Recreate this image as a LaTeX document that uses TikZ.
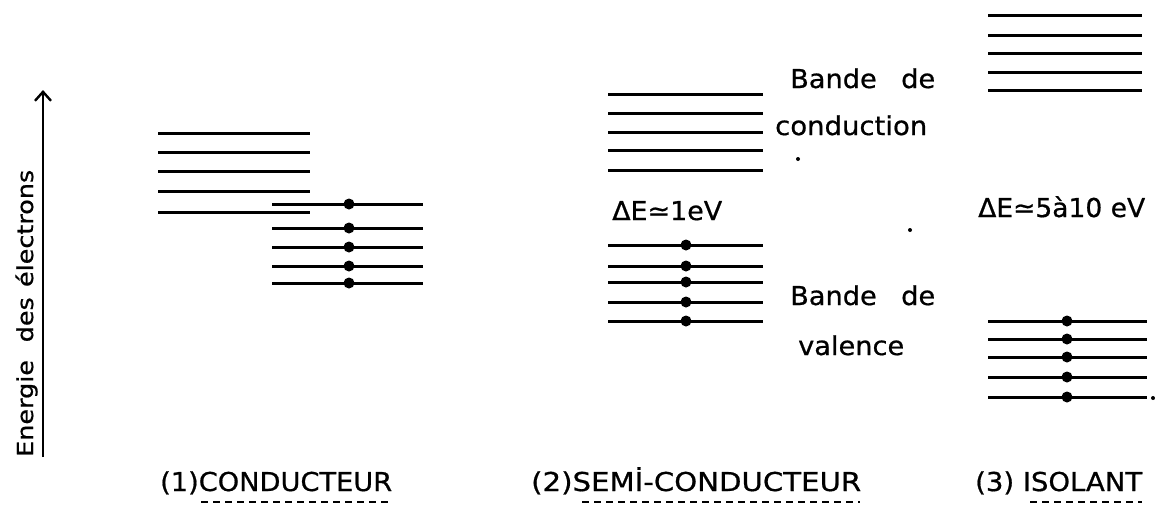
\documentclass[tikz,border=0pt]{standalone}
\usepackage{fontspec}
\setmainfont{DejaVu Sans}[FakeBold=0.7]
\usepackage{graphicx}
\usetikzlibrary{arrows.meta}
\newcommand{\wtext}[2]{\resizebox{#1pt}{\height}{#2}}
\begin{document}
\begin{tikzpicture}[x=1pt,y=-1pt,
  level/.style={line width=3pt},
  electron/.style={circle,fill=black,inner sep=0pt,minimum size=11pt},
  speck/.style={circle,fill=black,inner sep=0pt,minimum size=4pt},
  lab/.style={font=\fontsize{26}{30}\selectfont,inner sep=0pt,anchor=base west},
  axlabel/.style={font=\fontsize{22}{26}\selectfont,inner sep=0pt,anchor=base west,rotate=90},
  underl/.style={line width=2pt,dash pattern=on 7pt off 5pt}]
\useasboundingbox (0,0) rectangle (1155,507);

% energy axis
\coordinate (axbot) at (43,457);
\coordinate (axtop) at (43,90);
\draw[line width=2.4pt,-{Straight Barb[length=9pt,width=16pt]}] (axbot) -- (axtop);
\node[axlabel] (axlab) at (33,457) {\wtext{287}{Energie\hspace{0.7em}des\hspace{0.4em}électrons}};

% (1) conductor
\foreach \y in {133,152,171,191,212} \draw[level] (158,\y) -- (310,\y);
\foreach \y [count=\i] in {204,228,247,266,283} {
  \draw[level] (272,\y) -- (423,\y);
  \node[electron] (c\i) at (349,\y) {};
}

% (2) semiconductor
\foreach \y in {94,113,132,150,170} \draw[level] (608,\y) -- (763,\y);
\foreach \y [count=\i] in {245,266,282,302,321} {
  \draw[level] (608,\y) -- (763,\y);
  \node[electron] (s\i) at (686,\y) {};
}
\node[lab] (bc1) at (790,88) {\wtext{145}{Bande\hspace{0.9em}de}};
\node[lab] (bc2) at (775,135) {\wtext{152}{conduction}};
\node[lab] (gap1) at (612,220) {\wtext{110}{ΔE≃1eV}};
\node[lab] (bv1) at (790,305) {\wtext{145}{Bande\hspace{0.9em}de}};
\node[lab] (bv2) at (798,355) {\wtext{106}{valence}};
\node[speck] (sp1) at (798,159) {};
\node[speck] (sp2) at (910,230) {};

% (3) insulator
\foreach \y in {15,35,53,72,90} \draw[level] (988,\y) -- (1142,\y);
\foreach \y [count=\i] in {321,339,357,377,397} {
  \draw[level] (988,\y) -- (1147,\y);
  \node[electron] (i\i) at (1067,\y) {};
}
\node[lab] (gap2) at (978,217) {\wtext{167}{ΔE≃5à10 eV}};
\node[speck] (sp3) at (1153,398) {};

% captions
\node[lab] (t1) at (160,491) {\wtext{232}{(1)CONDUCTEUR}};
\node[lab] (t2) at (531,491) {\wtext{330}{(2)SEMİ-CONDUCTEUR}};
\node[lab] (t3) at (975,491) {\wtext{167}{(3) ISOLANT}};
\draw[underl] (201,502) -- (392,502);
\draw[underl] (582,502) -- (860,502);
\draw[underl] (1030,502) -- (1142,502);
\end{tikzpicture}
\end{document}
